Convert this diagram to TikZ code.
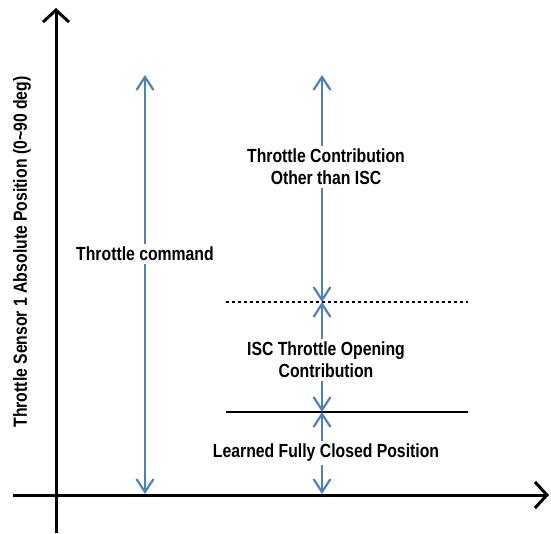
\documentclass[tikz,border=0pt]{standalone}
\usepackage{fontspec}
\setmainfont{Liberation Sans}[FakeStretch=0.83]
\usetikzlibrary{arrows.meta}
\definecolor{arrowblue}{RGB}{79,129,189}
\begin{document}
\begin{tikzpicture}[x=1pt,y=-1pt,
  axisline/.style={line width=3pt, -{Straight Barb[length=12pt,width=26pt]}},
  measure/.style={draw=arrowblue, line width=2.2pt, {Straight Barb[length=13pt,width=17pt]}-{Straight Barb[length=13pt,width=17pt]}},
  lbl/.style={font=\bfseries\fontsize{19}{22}\selectfont, fill=white, align=center, inner sep=3pt},
  dottedlevel/.style={line width=1.5pt, dash pattern=on 3pt off 3pt},
  solidlevel/.style={line width=2pt}]
\useasboundingbox (0,0) rectangle (551,533);
% axes
\coordinate (yb) at (56,533); \coordinate (yt) at (56,8);
\coordinate (xl) at (13,495); \coordinate (xr) at (549,495);
\draw[axisline] (yb) -- (yt);
\draw[axisline] (xl) -- (xr);
\node[lbl, fill=none, rotate=90] (ylab) at (22,252) {Throttle Sensor 1 Absolute Position (0\textasciitilde 90 deg)};
% level lines
\coordinate (dl) at (226,302); \coordinate (dr) at (468,302);
\coordinate (sl) at (226,412); \coordinate (sr) at (468,412);
\draw[dottedlevel] (dl) -- (dr);
\draw[solidlevel] (sl) -- (sr);
% measurement arrows
\coordinate (ct) at (145,75); \coordinate (cb) at (145,494);
\coordinate (rt) at (322,75); \coordinate (rd) at (322,302);
\coordinate (rs) at (322,412); \coordinate (rb) at (322,494);
\draw[measure] (ct) -- (cb);
\draw[measure] (rt) -- (rd);
\draw[measure] (rd) -- (rs);
\draw[measure] (rs) -- (rb);
% labels
\node[lbl] (cmd) at (145,254) {Throttle command};
\node[lbl] (other) at (326,167) {Throttle Contribution\\Other than ISC};
\node[lbl] (isc) at (326,360) {ISC Throttle Opening\\Contribution};
\node[lbl] (learn) at (326,453) {Learned Fully Closed Position};
\end{tikzpicture}
\end{document}
